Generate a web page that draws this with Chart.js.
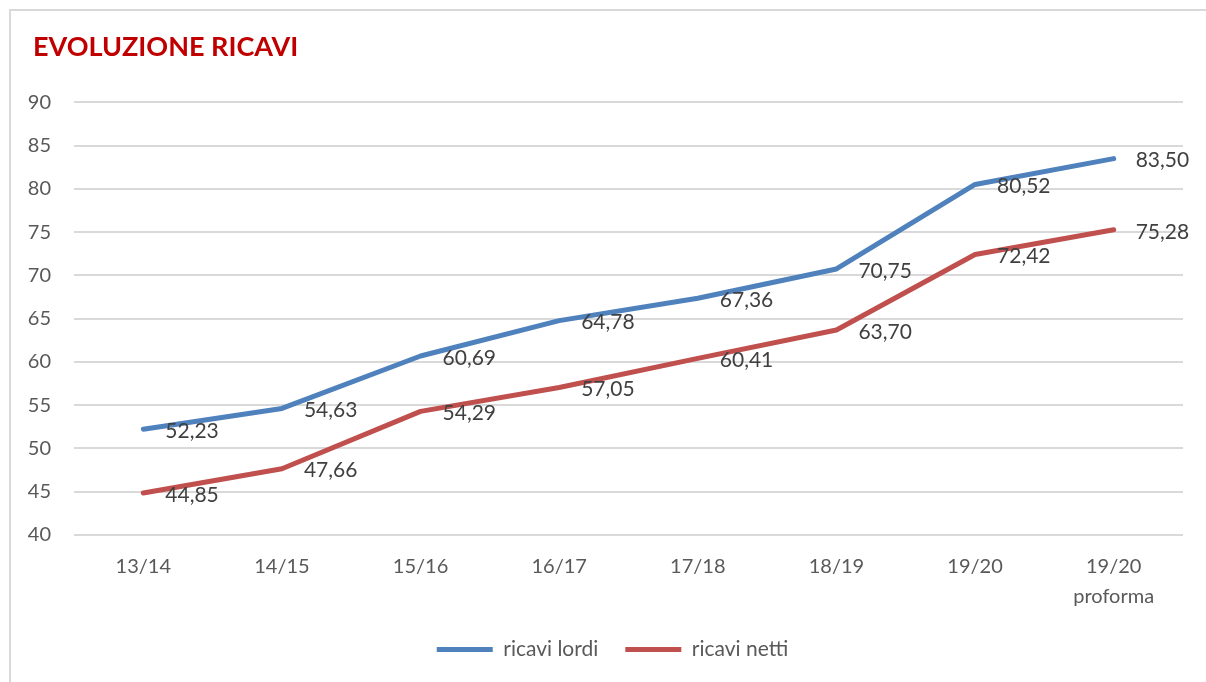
<!DOCTYPE html>
<html>
<head>
<meta charset="utf-8">
<script src="https://cdn.jsdelivr.net/npm/chart.js@4"></script>
<style>
    body { margin: 0; background: #fff; overflow: hidden; }
    #wrap { position: relative; width: 1206px; height: 682px; }
    #frame { position: absolute; left: 9px; top: 9px; width: 1300px; height: 700px;
        border-top: 2px solid #d9d9d9; border-left: 2px solid #d9d9d9; }
    canvas { position: absolute; left: 0; top: 0; }
</style>
</head>
<body>
<div id="wrap">
    <div id="frame"></div>
    <canvas id="line-chart" width="1206" height="682"></canvas>
</div>
<script>
// dati
const labels = ['13/14', '14/15', '15/16', '16/17', '17/18', '18/19', '19/20', ['19/20', 'proforma']];
const ricaviLordi = [52.23, 54.63, 60.69, 64.78, 67.36, 70.75, 80.52, 83.50];
const ricaviNetti = [44.85, 47.66, 54.29, 57.05, 60.41, 63.70, 72.42, 75.28];

const fontName = 'Lato';
const textColor = '#595959';

// etichette dati a destra dei punti (come Excel)
const valueLabels = {
    id: 'valueLabels',
    afterLayout(chart) {
        // titolo un po' a destra, legenda centrata come nell'originale
        if (chart.titleBlock) chart.titleBlock.left = 33;
        if (chart.legend) {
            chart.legend.left += 14;
            chart.legend.right += 14;
        }
    },
    afterDatasetsDraw(chart) {
        const ctx = chart.ctx;
        ctx.save();
        ctx.font = '21px ' + fontName;
        ctx.fillStyle = '#404040';
        ctx.textAlign = 'left';
        ctx.textBaseline = 'middle';
        chart.data.datasets.forEach((ds, i) => {
            const meta = chart.getDatasetMeta(i);
            meta.data.forEach((pt, j) => {
                const txt = ds.data[j].toFixed(2).replace('.', ',');
                ctx.fillText(txt, pt.x + 22, pt.y + 2);
            });
        });
        ctx.restore();
    }
};

const data = {
    labels: labels,
    datasets: [
        {
            label: 'ricavi lordi',
            data: ricaviLordi,
            borderColor: '#4f81bd',
            backgroundColor: '#4f81bd',
            borderWidth: 5,
            borderCapStyle: 'round',
            borderJoinStyle: 'round',
            pointRadius: 0,
            tension: 0
        },
        {
            label: 'ricavi netti',
            data: ricaviNetti,
            borderColor: '#c0504d',
            backgroundColor: '#c0504d',
            borderWidth: 5,
            borderCapStyle: 'round',
            borderJoinStyle: 'round',
            pointRadius: 0,
            tension: 0
        }
    ]
};

const config = {
    type: 'line',
    data: data,
    plugins: [valueLabels],
    options: {
        responsive: false,
        animation: false,
        layout: { padding: { left: 14, right: 23, top: 10, bottom: 12 } },
        plugins: {
            title: {
                display: true,
                text: 'EVOLUZIONE RICAVI',
                align: 'start',
                color: '#c00000',
                font: { family: fontName, size: 27, weight: 'bold', lineHeight: 1.2 },
                padding: { top: 21, bottom: 39 }
            },
            legend: {
                position: 'bottom',
                labels: {
                    usePointStyle: true,
                    pointStyle: 'line',
                    pointStyleWidth: 56,
                    padding: 27,
                    color: textColor,
                    font: { family: fontName, size: 21 }
                }
            },
            tooltip: { enabled: false }
        },
        scales: {
            x: {
                offset: true,
                grid: { display: false, drawTicks: false },
                border: { display: false },
                ticks: {
                    color: textColor,
                    padding: 17,
                    maxRotation: 0,
                    font: { family: fontName, size: 20, lineHeight: 1.5 }
                },
                afterFit(axis) { axis.height = 77; }
            },
            y: {
                min: 40,
                max: 90,
                grid: { color: '#d9d9d9', lineWidth: 2, drawTicks: false },
                border: { display: false },
                ticks: {
                    stepSize: 5,
                    color: textColor,
                    padding: 23,
                    font: { family: fontName, size: 20 }
                },
                afterFit(axis) { axis.width = 60; }
            }
        }
    }
};

var myChart = new Chart(document.getElementById('line-chart'), config);
</script>
</body>
</html>
